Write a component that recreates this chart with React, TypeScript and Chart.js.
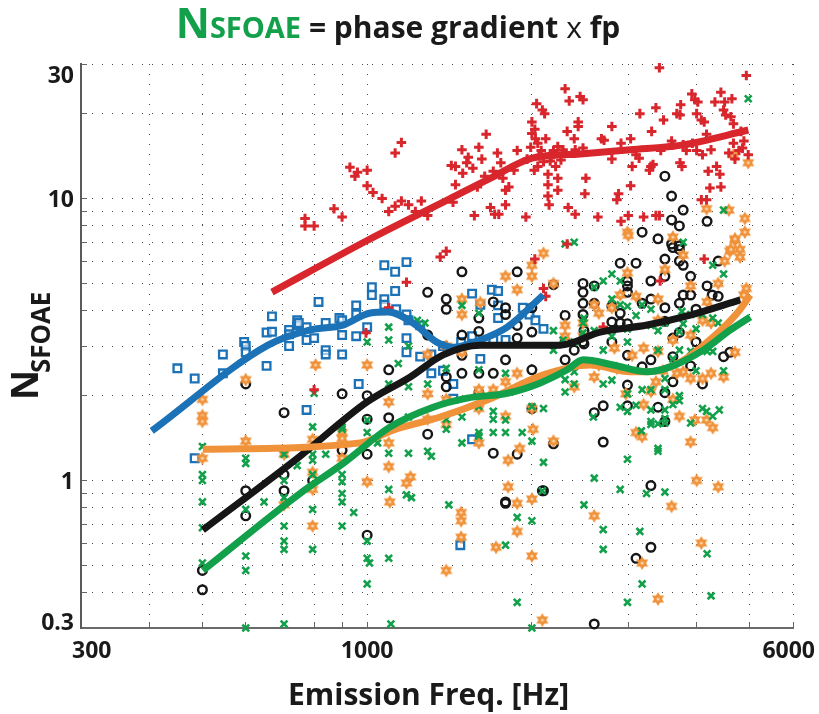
import React, { useEffect, useRef } from "react";
import { Chart, registerables } from "chart.js";

Chart.register(...registerables);

// Each point: [emission frequency in Hz, N_SFOAE]
type Pt = [number, number];

const xGridValues = [300, 400, 500, 600, 700, 800, 900, 1000, 2000, 3000, 4000, 5000, 6000];
const xTickLabels = [300, 1000, 6000];
const yGridValues = [0.3, 0.4, 0.5, 0.6, 0.7, 0.8, 0.9, 1, 2, 3, 4, 5, 6, 7, 8, 9, 10, 20, 30];
const yTickLabels = [0.3, 1, 10, 30];

const plusPoints: Pt[] = [
  [770, 8.5], [770, 8.0], [800, 8.0], [870, 9.2], [900, 8.6], [930, 12.9], [950, 12.0], [960, 12.4],
  [1000, 12.6], [1000, 11.1], [1025, 10.5], [1065, 10.0], [1095, 9.0], [1125, 9.4], [1125, 14.5],
  [1155, 15.8], [1155, 9.8], [1190, 9.5], [1225, 9.0], [1256, 9.8], [1290, 8.7], [1360, 6.2], [1395, 6.5],
  [1425, 13.1], [1450, 13.0], [1450, 11.2], [1435, 9.7], [1490, 14.9], [1520, 13.4], [1495, 12.3],
  [1590, 11.0], [1570, 8.7], [1650, 16.9], [1755, 13.4], [1790, 10.7], [1815, 11.0], [1680, 9.3],
  [1710, 8.8], [1740, 8.8], [1790, 9.5], [1855, 12.6], [1880, 14.8], [1950, 8.6], [1960, 13.8],
  [1530, 14.0], [1560, 12.8], [1620, 13.8], [1700, 12.5], [1730, 14.5], [1600, 15.2], [1640, 12.0], [1770, 11.8],
  [2000, 18.7], [2000, 17.0], [2025, 17.6], [2040, 21.7], [2030, 16.3], [2050, 15.7], [2050, 13.0],
  [2080, 14.8], [2090, 20.6], [2110, 20.0], [2120, 16.3], [2140, 12.2], [2140, 11.2], [2160, 13.6],
  [2190, 14.8], [2210, 13.0], [2230, 11.8], [2150, 9.5], [2140, 10.2], [2230, 10.7], [2300, 24.5],
  [2060, 14.2], [2100, 13.5], [2170, 14.0], [2230, 15.3], [2260, 13.7], [2020, 12.6], [1990, 15.2],
  [2340, 22.2], [2280, 14.9], [2320, 17.3], [2390, 16.3], [2330, 9.3], [2400, 8.8], [2430, 18.7],
  [2450, 23.0], [2480, 22.4], [2430, 18.0], [2400, 14.9], [2480, 15.1], [2510, 11.8], [2500, 10.4],
  [2640, 8.6], [2680, 16.3], [2710, 16.1], [2800, 18.0], [2800, 13.8], [2860, 9.9], [2880, 10.4],
  [2910, 15.7], [3030, 16.3], [3000, 8.7], [3030, 11.1], [3050, 13.0], [3150, 20.0], [3100, 14.3],
  [3140, 13.9], [3200, 8.6], [3300, 13.0], [3280, 12.6], [3330, 13.2], [3310, 17.3], [3370, 21.0],
  [3420, 29.1], [3420, 8.7], [3440, 14.8], [3480, 19.0], [3600, 16.0], [3680, 20.0], [3730, 19.8],
  [3620, 15.5], [3730, 13.4], [3760, 13.0], [3740, 21.5], [3780, 15.5], [3830, 14.8], [3920, 23.5],
  [3970, 22.4], [4000, 20.0], [4020, 22.0], [3930, 15.7], [4000, 14.8], [4080, 19.0], [4130, 18.7],
  [4100, 14.3], [4170, 16.9], [4080, 9.9], [4170, 9.9], [4200, 12.5], [4250, 14.9], [4230, 10.9],
  [4320, 22.0], [4350, 13.0], [4410, 12.2], [4430, 23.8], [4430, 11.0], [4480, 20.6], [4500, 22.0],
  [4520, 19.8], [4580, 14.5], [4620, 19.5], [4640, 22.6], [4670, 18.4], [4670, 15.7], [4700, 13.8],
  [4780, 14.8], [4820, 17.3], [4880, 16.0], [4930, 27.3], [4970, 14.3], [4850, 15.1],
  [1180, 5.05], [2025, 6.1], [2100, 4.8], [2120, 4.5], [1095, 4.1], [995, 3.34], [800, 2.1], [4130, 6.1],
  [3430, 5.1], [2700, 3.5], [2320, 6.9], [2910, 8.3], [3370, 8.7],
];

const squarePoints: Pt[] = [
  [450, 2.5], [484, 2.3], [545, 2.8], [545, 2.4], [596, 3.1], [600, 3.0], [600, 2.85], [655, 3.35],
  [670, 3.37], [670, 3.82], [655, 2.55], [720, 3.42], [720, 3.3], [720, 3.0], [745, 3.7], [745, 3.55],
  [775, 3.5], [775, 3.15], [775, 1.78], [484, 1.2], [750, 3.62], [800, 3.2], [815, 4.3], [840, 3.62],
  [840, 2.9], [840, 2.8], [890, 3.77], [900, 3.7], [900, 3.28], [900, 2.8], [955, 4.18], [955, 3.88],
  [955, 3.25], [1000, 3.5], [1020, 4.85], [1020, 4.55], [1075, 5.8], [1075, 4.4], [1075, 4.2],
  [1125, 5.5], [1125, 4.7], [1130, 4.05], [1180, 5.95], [1180, 3.88], [1180, 3.2], [1180, 2.85],
  [1190, 3.7], [1250, 3.55], [1250, 2.75], [1310, 2.8], [1310, 2.4], [965, 2.2], [1376, 3.0],
  [1376, 2.45], [1437, 2.2], [1437, 1.95], [1485, 3.1], [1555, 4.6], [1555, 3.25], [1555, 1.4],
  [1610, 4.2], [1610, 2.7], [1690, 4.75], [1700, 3.15], [1735, 4.7], [1735, 4.18], [1735, 3.77],
  [1790, 3.15], [1925, 4.1], [1980, 3.88], [2030, 3.7], [2100, 3.45], [1480, 0.59],
];

const circlePoints: Pt[] = [
  [500, 0.48], [500, 0.41], [600, 0.92], [600, 0.75], [705, 1.74], [705, 1.05], [705, 0.92], [795, 1.0],
  [900, 1.28], [600, 2.2], [900, 2.03], [1000, 2.0], [1000, 1.65], [1000, 1.24], [1095, 2.47], [1095, 1.67],
  [1290, 1.46], [1290, 3.28], [1290, 4.65], [1395, 4.4], [1395, 4.05], [1395, 2.15], [1395, 2.33],
  [1490, 5.5], [1490, 3.28], [1490, 2.78], [1490, 2.4], [1600, 3.77], [1600, 3.38], [1600, 2.4],
  [1600, 2.05], [1700, 4.3], [1700, 2.4], [1700, 1.25], [1790, 4.1], [1790, 3.88], [1790, 2.68],
  [1790, 0.84], [1880, 5.5], [1880, 3.55], [1880, 3.2], [1880, 1.24], [2000, 4.1], [2000, 3.36],
  [2000, 2.47], [2000, 1.8], [2190, 4.95], [2190, 1.35], [2300, 3.85], [2300, 3.1], [2300, 2.68],
  [2390, 2.9], [2480, 5.0], [2480, 4.65], [2480, 4.25], [2480, 3.88], [2480, 3.1], [2600, 1.74],
  [2100, 0.92], [3400, 7.2], [3620, 6.7], [3720, 6.6], [3500, 6.1], [3720, 6.0], [3780, 5.8], [3900, 5.3],
  [3500, 5.3], [2900, 5.9], [3100, 5.9], [3300, 5.1], [2990, 5.1], [2990, 4.9], [2990, 4.65], [4380, 6.0],
  [4180, 4.9], [4270, 4.55], [4380, 4.5], [3780, 4.55], [3900, 4.55], [3720, 4.25], [3300, 4.4],
  [3180, 4.25], [3500, 4.1], [2600, 4.9], [2600, 4.25], [2800, 4.15], [2900, 3.92], [2900, 3.62],
  [2990, 3.6], [2800, 3.65], [2490, 3.4], [2490, 3.05], [2800, 3.1], [2990, 2.78], [3500, 3.67],
  [3620, 3.2], [3720, 3.35], [3990, 4.05], [3990, 3.1], [3300, 2.68], [3180, 2.53], [3620, 2.75],
  [3900, 2.55], [4480, 2.75], [4600, 2.85], [3620, 2.24], [2990, 2.18], [3500, 2.05], [4100, 2.2],
  [2990, 1.84], [2700, 1.84], [3400, 1.82], [3500, 1.62], [2700, 1.37], [3300, 0.96], [3300, 0.58],
  [3100, 0.53], [2600, 0.31], [1000, 0.64], [1790, 0.83], [2090, 0.92], [3500, 12.0], [3600, 10.2],
  [3780, 9.1], [3600, 8.4], [3720, 8.0], [3180, 7.6], [3600, 6.9], [4180, 8.3], [3720, 6.8],
];

const hexPoints: Pt[] = [
  [500, 1.94], [500, 1.7], [500, 1.62], [500, 1.2], [600, 2.28], [600, 1.38], [705, 1.24], [705, 0.82],
  [795, 1.4], [795, 1.07], [795, 0.93], [795, 0.69], [900, 1.48], [900, 1.41], [900, 1.2], [805, 2.57],
  [1000, 2.57], [1095, 1.9], [1095, 1.12], [1095, 1.36], [1200, 1.03], [1180, 0.98], [1000, 0.99],
  [1290, 2.8], [1290, 2.03], [1290, 1.65], [1395, 3.0], [1395, 1.94], [1395, 1.58], [1490, 3.88],
  [1490, 4.4], [1490, 2.85], [1600, 2.1], [1600, 1.8], [1600, 1.36], [1700, 2.1], [1610, 4.28],
  [1790, 2.24], [1790, 1.69], [1880, 4.75], [1880, 2.4], [2000, 1.8], [2010, 1.52], [2000, 0.86],
  [2190, 5.0], [2190, 1.38], [2300, 3.55], [2300, 3.25], [2390, 2.15], [2480, 3.62], [2480, 3.25],
  [2600, 4.2], [2600, 2.33], [1790, 5.3], [2000, 5.8], [2100, 6.4], [2000, 5.3], [1900, 1.3],
  [1810, 1.18], [1810, 0.95], [1100, 0.84], [1485, 0.77], [1485, 0.72], [1485, 0.63], [1395, 0.48],
  [1720, 0.58], [1880, 0.83], [1880, 0.66], [2000, 0.54], [2090, 0.32],
  [2990, 7.6], [3620, 7.3], [4700, 7.1], [4600, 6.5], [4800, 6.6], [4800, 6.2], [3780, 6.3], [3500, 5.6],
  [2990, 5.45], [4500, 6.0], [4380, 5.0], [3900, 4.9], [4930, 4.8], [4880, 4.55], [2900, 4.55],
  [3100, 4.5], [3400, 4.4], [4180, 4.3], [2800, 4.1], [2650, 3.92], [3400, 3.7], [4100, 3.7],
  [4250, 3.62], [3900, 3.28], [3620, 3.15], [3200, 2.95], [3400, 2.87], [2830, 2.95], [3050, 2.78],
  [4700, 2.85], [3470, 2.45], [3780, 2.43], [3900, 2.3], [4480, 2.33], [4250, 2.4], [4100, 2.3],
  [3680, 2.4], [3370, 2.24], [3300, 2.07], [3620, 1.94], [2860, 2.5], [2970, 2.03], [3200, 1.86],
  [3720, 1.69], [3970, 1.64], [4170, 1.64], [4280, 1.54], [3100, 1.48], [3180, 1.43], [3900, 1.37],
  [2650, 2.57], [4000, 1.0], [4380, 0.95], [3600, 0.81], [2600, 0.75], [4080, 0.6], [3180, 0.51],
  [3400, 0.38], [3000, 7.4], [4170, 9.2], [4580, 9.1], [4900, 8.5], [4900, 7.6], [4700, 7.2],
  [4620, 6.6], [4970, 13.4], [4670, 14.3],
];

const crossPoints: Pt[] = [
  [500, 1.32], [500, 1.05], [500, 1.0], [500, 0.84], [500, 0.68], [500, 0.51], [600, 1.2], [600, 1.15],
  [600, 0.79], [600, 0.54], [600, 0.48], [600, 0.3], [648, 0.84], [705, 1.24], [705, 1.0], [705, 0.87],
  [705, 0.69], [705, 0.61], [705, 0.57], [705, 0.31], [745, 1.13], [795, 1.55], [795, 1.24], [795, 1.18],
  [795, 1.05], [795, 0.79], [795, 0.57], [840, 1.24], [900, 1.55], [900, 1.05], [900, 0.9], [900, 0.84],
  [900, 0.69], [945, 0.77], [800, 2.04], [900, 1.52], [1000, 3.1], [1000, 1.64], [1000, 1.48],
  [1045, 1.36], [1095, 3.15], [1095, 2.2], [1095, 1.25], [1140, 2.6], [1190, 3.0], [1190, 2.15],
  [1190, 1.68], [1190, 1.25], [1235, 3.7], [1275, 3.62], [1290, 2.2], [1290, 1.27], [1310, 1.22],
  [1395, 2.5], [1395, 1.65], [1395, 1.52], [1490, 4.18], [1490, 1.68], [1490, 1.36], [1600, 3.92],
  [1600, 2.47], [1600, 1.83], [1600, 1.48], [1600, 1.44], [1700, 1.76], [1700, 1.65], [1700, 1.48],
  [1790, 2.4], [1790, 1.64], [1790, 1.48], [1920, 1.48], [2000, 1.83], [2000, 1.38], [2100, 1.8],
  [2100, 1.16], [2190, 3.4], [2190, 2.9], [2280, 3.15], [2300, 2.28], [2300, 2.06], [2390, 3.1],
  [2390, 2.43], [2390, 2.2], [2480, 3.62], [2480, 3.34], [2600, 3.4], [2600, 1.02], [1095, 0.93],
  [1180, 0.89], [900, 0.99], [1095, 3.5], [1000, 0.61], [1000, 0.53], [1010, 0.51], [1000, 0.43],
  [1095, 0.53], [1105, 0.31], [1205, 0.87], [1410, 0.82], [1790, 0.59], [1880, 0.74], [2000, 0.72],
  [1880, 0.37], [2000, 0.3], [2090, 0.92], [2490, 0.82], [3400, 1.27], [2990, 1.19], [2900, 0.93],
  [3240, 0.9], [3500, 0.91], [2700, 0.67], [3150, 0.66], [2700, 0.57], [4180, 0.55], [3180, 0.43],
  [2990, 0.37], [4250, 0.39], [3780, 7.0], [4280, 5.8], [4480, 5.4], [2700, 5.1], [2800, 5.4],
  [2900, 5.1], [2600, 4.85], [2800, 4.4], [2900, 4.2], [3180, 4.2], [2990, 4.15], [3100, 3.85],
  [3300, 4.05], [3760, 3.98], [3900, 3.88], [4100, 3.88], [2490, 3.77], [2990, 3.45], [3300, 3.55],
  [3500, 3.62], [3780, 3.6], [3990, 3.45], [4280, 3.77], [4380, 3.62], [2800, 3.25], [2990, 3.1],
  [3400, 3.4], [3720, 3.37], [3720, 2.9], [3900, 2.87], [4180, 2.87], [2700, 2.9], [3400, 2.9],
  [3620, 2.7], [4280, 2.87], [4480, 2.45], [3990, 2.45], [2700, 2.2], [2800, 2.27], [3180, 2.1],
  [3300, 2.1], [3500, 2.3], [3500, 2.1], [3720, 2.0], [2990, 2.03], [3100, 1.85], [3300, 1.78],
  [3500, 1.78], [3620, 1.86], [3720, 1.92], [4100, 1.8], [4170, 1.76], [4280, 1.69], [4400, 1.78],
  [2900, 1.82], [2990, 1.76], [3300, 1.62], [3400, 1.59], [3500, 1.66], [3500, 1.6], [3900, 1.6],
  [3170, 1.5], [3300, 1.58], [3400, 1.3], [2590, 1.68], [2300, 6.9], [2390, 7.0], [4480, 9.1],
  [4970, 22.6],
];

// Smoothed trends drawn over each group
const plusTrend: Pt[] = [
  [670, 4.66], [1004, 7.13], [1418, 10.0], [1678, 11.8], [2002, 13.9], [2451, 14.4], [3026, 14.9],
  [3781, 15.5], [4972, 17.5],
];
const squareTrend: Pt[] = [
  [404, 1.5], [659, 3.02], [787, 3.42], [904, 3.56], [1013, 3.93], [1092, 3.96], [1213, 3.62],
  [1343, 3.09], [1436, 2.97], [1609, 3.15], [1803, 3.5], [2098, 4.55],
];
const circleTrend: Pt[] = [
  [501, 0.668], [754, 1.22], [1000, 1.9], [1199, 2.33], [1377, 2.79], [1609, 3.02], [1880, 3.02],
  [2253, 3.02], [2666, 3.36], [3249, 3.56], [3894, 3.86], [4807, 4.37],
];
const hexTrend: Pt[] = [
  [501, 1.29], [971, 1.36], [1116, 1.51], [1360, 1.68], [1657, 1.93], [2098, 2.37], [2556, 2.57],
  [3026, 2.43], [3249, 2.43], [3735, 2.63], [4290, 3.23], [4745, 3.93], [5013, 4.55],
];
const crossTrend: Pt[] = [
  [501, 0.48], [754, 0.9], [904, 1.15], [1102, 1.55], [1320, 1.82], [1523, 1.96], [1803, 2.04],
  [2072, 2.22], [2320, 2.47], [2482, 2.68], [2816, 2.57], [3249, 2.43], [3579, 2.53], [4113, 2.9],
  [4610, 3.42], [5013, 3.8],
];

const RED = "#D8262C";
const BLUE = "#1C72B6";
const BLACK = "#161616";
const ORANGE = "#F0923A";
const GREEN = "#12A04B";
const INK = "#1a1a1a";
const FONT = '"Open Sans", "Noto Sans", sans-serif';

// Title pieces: text, weight, size, colour
const titleParts: [string, string, number, string][] = [
  ["N", "bold", 42, GREEN],
  ["SFOAE", "bold", 29, GREEN],
  [" = phase gradient ", "bold", 30, INK],
  ["x", "normal", 30, INK],
  [" fp", "bold", 30, INK],
];

const toXY = (pts: Pt[]) => pts.map(([x, y]) => ({ x, y }));

function makeHexagram(color: string, light: string, r: number): HTMLCanvasElement {
  const size = Math.ceil(r * 2 + 4);
  const c = document.createElement("canvas");
  c.width = size;
  c.height = size;
  const g = c.getContext("2d")!;
  const cx = size / 2;
  const cy = size / 2;
  g.beginPath();
  for (let i = 0; i < 12; i++) {
    const a = -Math.PI / 2 + (i * Math.PI) / 6;
    const rr = i % 2 === 0 ? r : r / Math.sqrt(3);
    const px = cx + rr * Math.cos(a);
    const py = cy + rr * Math.sin(a);
    if (i === 0) g.moveTo(px, py);
    else g.lineTo(px, py);
  }
  g.closePath();
  g.fillStyle = color;
  g.fill();
  g.lineWidth = 1.2;
  g.strokeStyle = color;
  g.stroke();
  g.beginPath();
  g.arc(cx, cy, r * 0.28, 0, Math.PI * 2);
  g.fillStyle = light;
  g.fill();
  return c;
}

// Draw text so that its ink spans [inkLeft, inkLeft + inkWidth] along the baseline
function drawFitted(
  ctx: CanvasRenderingContext2D,
  text: string,
  weight: string,
  inkLeft: number,
  inkWidth: number,
  baseline: number,
  color: string
) {
  ctx.textAlign = "left";
  ctx.textBaseline = "alphabetic";
  ctx.font = `${weight} 100px ${FONT}`;
  const m = ctx.measureText(text);
  const w = m.actualBoundingBoxLeft + m.actualBoundingBoxRight;
  const size = (100 * inkWidth) / w;
  ctx.font = `${weight} ${size}px ${FONT}`;
  const m2 = ctx.measureText(text);
  ctx.fillStyle = color;
  ctx.fillText(text, inkLeft + m2.actualBoundingBoxLeft, baseline);
}

const textPlugin = {
  id: "nsfoaeText",
  afterDraw(chart: any) {
    const { ctx, chartArea } = chart;
    const xs = chart.scales.x;
    const ys = chart.scales.y;
    ctx.save();

    // tick labels
    ctx.fillStyle = INK;
    ctx.font = `bold 23px ${FONT}`;
    ctx.textBaseline = "alphabetic";
    ctx.textAlign = "center";
    for (const v of xTickLabels) {
      const t = String(v);
      const w = ctx.measureText(t).width;
      let cx = xs.getPixelForValue(v);
      cx = Math.max(cx, chartArea.left + w / 2 - 9);
      cx = Math.min(cx, chartArea.right - w / 2 + 22);
      ctx.fillText(t, cx, chartArea.bottom + 30);
    }
    ctx.textAlign = "right";
    for (const v of yTickLabels) {
      let by = ys.getPixelForValue(v) + 8;
      by = Math.max(by, chartArea.top + 19);
      by = Math.min(by, chartArea.bottom + 2);
      ctx.fillText(String(v), chartArea.left - 7, by);
    }

    // title, laid out piece by piece and centred at x = 398
    ctx.textAlign = "left";
    let total = 0;
    const widths = titleParts.map(([t, wgt, sz]) => {
      ctx.font = `${wgt} ${sz}px ${FONT}`;
      const w = ctx.measureText(t).width;
      total += w;
      return w;
    });
    let tx = 398 - total / 2;
    titleParts.forEach(([t, wgt, sz, col], i) => {
      ctx.font = `${wgt} ${sz}px ${FONT}`;
      ctx.fillStyle = col;
      ctx.fillText(t, tx, 38);
      tx += widths[i];
    });

    // x-axis title
    drawFitted(ctx, "Emission Freq. [Hz]", "bold", 290, 277, 705, INK);

    // y-axis title, rotated
    ctx.save();
    ctx.rotate(-Math.PI / 2);
    drawFitted(ctx, "N", "bold", -397, 24, 38, INK);
    drawFitted(ctx, "SFOAE", "bold", -372, 79, 50, INK);
    ctx.restore();

    ctx.restore();
  },
};

export default function App() {
  const canvasRef = useRef<HTMLCanvasElement | null>(null);

  useEffect(() => {
    const canvas = canvasRef.current;
    if (!canvas) return;
    const hex = makeHexagram(ORANGE, "#FAD3A8", 5.8);

    const trend = (pts: Pt[], color: string, order: number) => ({
      type: "line" as const,
      data: toXY(pts),
      borderColor: color,
      backgroundColor: color,
      borderWidth: 7,
      pointRadius: 0,
      fill: false,
      cubicInterpolationMode: "monotone" as const,
      borderCapStyle: "butt" as const,
      borderJoinStyle: "round" as const,
      order,
    });

    const chart = new Chart(canvas, {
      type: "scatter",
      data: {
        datasets: [
          trend(crossTrend, GREEN, 0),
          trend(hexTrend, ORANGE, 1),
          trend(circleTrend, BLACK, 2),
          trend(squareTrend, BLUE, 3),
          trend(plusTrend, RED, 4),
          {
            data: toXY(plusPoints),
            pointStyle: "cross",
            pointRadius: 4.8,
            pointBorderWidth: 3,
            borderColor: RED,
            backgroundColor: RED,
            clip: false,
            order: 5,
          },
          {
            data: toXY(crossPoints),
            pointStyle: "crossRot",
            pointRadius: 4.8,
            pointBorderWidth: 2.6,
            borderColor: GREEN,
            backgroundColor: GREEN,
            clip: false,
            order: 6,
          },
          {
            data: toXY(hexPoints),
            pointStyle: hex,
            pointRadius: 5,
            borderColor: ORANGE,
            backgroundColor: ORANGE,
            clip: false,
            order: 7,
          },
          {
            data: toXY(circlePoints),
            pointStyle: "circle",
            pointRadius: 4.3,
            pointBorderWidth: 2.4,
            borderColor: BLACK,
            backgroundColor: "rgba(0,0,0,0)",
            clip: false,
            order: 8,
          },
          {
            data: toXY(squarePoints),
            pointStyle: "rect",
            pointRadius: 5.4,
            pointBorderWidth: 2.3,
            borderColor: BLUE,
            backgroundColor: "rgba(255,255,255,0.6)",
            clip: false,
            order: 9,
          },
        ] as any,
      },
      options: {
        responsive: false,
        animation: false,
        events: [],
        layout: { padding: { top: 64, right: 26, bottom: 0, left: 0 } },
        plugins: {
          legend: { display: false },
          tooltip: { enabled: false },
          title: { display: false },
        },
        scales: {
          x: {
            type: "logarithmic",
            position: "bottom",
            min: 300,
            max: 6000,
            afterBuildTicks: (s: any) => {
              s.ticks = xGridValues.map((value) => ({ value }));
            },
            afterFit: (s: any) => {
              s.height = 86;
            },
            ticks: { display: false },
            grid: {
              color: "#4a4a4a",
              lineWidth: 1,
              drawTicks: true,
              tickLength: -6,
              tickColor: "#666",
              tickWidth: 1,
            },
            border: { display: true, color: "#6a6a6a", width: 2, dash: [1, 9] },
          },
          y: {
            type: "logarithmic",
            position: "left",
            min: 0.3,
            max: 30,
            afterBuildTicks: (s: any) => {
              s.ticks = yGridValues.map((value) => ({ value }));
            },
            afterFit: (s: any) => {
              s.width = 81;
            },
            ticks: { display: false },
            grid: {
              color: "#4a4a4a",
              lineWidth: 1,
              drawTicks: true,
              tickLength: -6,
              tickColor: "#666",
              tickWidth: 1,
            },
            border: { display: true, color: "#5a5a5a", width: 2, dash: [1, 9] },
          },
        },
      } as any,
      plugins: [textPlugin],
    });

    return () => chart.destroy();
  }, []);

  return (
    <div
      style={{
        position: "absolute",
        left: 0,
        top: 0,
        width: 819,
        height: 714,
        background: "#fff",
      }}
    >
      <canvas ref={canvasRef} width={819} height={714} style={{ display: "block" }} />
    </div>
  );
}
